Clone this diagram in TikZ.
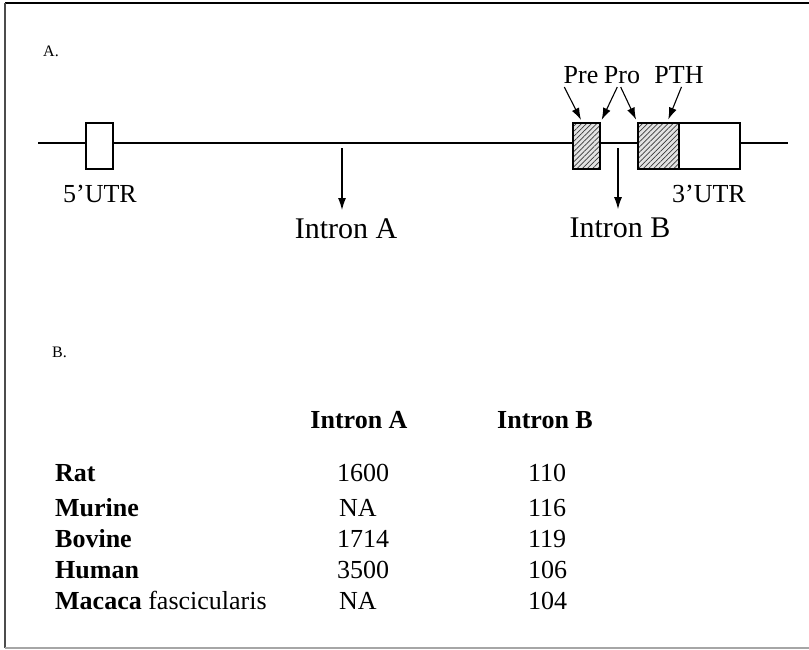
\documentclass[tikz,border=0pt]{standalone}
\usepackage{fontspec}
\setmainfont{Liberation Serif}
\usetikzlibrary{arrows.meta,patterns.meta,calc}

\begin{document}
\begin{tikzpicture}[x=1pt, y=-1pt,
    boxbase/.style={rectangle, draw, line width=1.3pt, inner sep=0pt, minimum height=46pt},
    exon/.style={boxbase, fill=white},
    hatched/.style={boxbase, preaction={fill=gray!22}, pattern={Lines[angle=45, distance=3.6pt, line width=0.7pt]}, pattern color=gray!45!black},
    backbone/.style={line width=2.8pt},
    pointer/.style={-{Latex[length=12pt,width=8pt]}, line width=1.1pt},
    panel/.style={inner sep=0pt, anchor=base west, font=\fontsize{16}{18}\selectfont},
    lbl/.style={inner sep=0pt, anchor=base, font=\fontsize{26}{30}\selectfont},
    big/.style={inner sep=0pt, anchor=base, font=\fontsize{30}{34}\selectfont},
    head/.style={inner sep=0pt, anchor=base, font=\bfseries\fontsize{26}{30}\selectfont},
    cell/.style={inner sep=0pt, anchor=base west, font=\fontsize{26}{30}\selectfont}
]
\useasboundingbox (0,0) rectangle (809,649);

% Frame
\draw[line width=2pt] (809,3) -- (5,3);
\draw[line width=1.4pt, gray!60!black] (5,3) -- (5,648);
\draw[line width=1.4pt, gray!70] (5,648) -- (809,648);

% Panel A: gene
\node[panel] (labA) at (43,56) {A.};

\coordinate (lend) at (38,143);
\coordinate (rend) at (788,143);
\draw[backbone] (lend) -- (rend);

\node[exon, minimum width=27pt] (utr5) at (99.5,146) {};
\node[hatched, minimum width=27pt] (pre) at (586.5,146) {};
\node[hatched, minimum width=41pt] (pth) at (658.5,146) {};
\node[exon, minimum width=61pt] (utr3) at (709.5,146) {};

\node[lbl] (lbl5) at (100,202) {5’UTR};
\node[lbl] (lbl3) at (709,202) {3’UTR};

% Pre Pro PTH
\node[lbl] (lblpre) at (581,83) {Pre};
\node[lbl] (lblpro) at (622,83) {Pro};
\node[lbl] (lblpth) at (679,83) {PTH};

\draw[pointer, shorten <=4pt, shorten >=3pt] ($(lblpre.south west)+(-1,0)$) -- (pre.100);
\draw[pointer, shorten <=4pt, shorten >=3pt] ($(lblpro.south)+(-3,0)$) -- (pre.north east);
\draw[pointer, shorten <=4pt, shorten >=3pt] ($(lblpro.south)+(-3,0)$) -- (pth.north west);
\draw[pointer, shorten <=4pt, shorten >=3pt] ($(lblpth.south)+(4,0)$) -- (pth.70);

% Introns
\coordinate (cutA) at (342,148);
\node[big] (intA) at (346,238) {Intron A};
\draw[pointer, shorten >=8pt] (cutA) -- (cutA |- intA.north);

\coordinate (cutB) at (618,148);
\node[big] (intB) at (620,237) {Intron B};
\draw[pointer, shorten >=8pt] (cutB) -- (cutB |- intB.north);

% Panel B: intron sizes
\node[panel] (labB) at (52,357) {B.};

\node[head] (hdA) at (359,428) {Intron A};
\node[head] (hdB) at (545,428) {Intron B};

\node[cell] (rat) at (55,481) {\textbf{Rat}};
\node[cell] (murine) at (55,516) {\textbf{Murine}};
\node[cell] (bovine) at (55,547) {\textbf{Bovine}};
\node[cell] (human) at (55,578) {\textbf{Human}};
\node[cell] (macaca) at (55,609) {\textbf{Macaca} fascicularis};

\node[cell] (ratA) at (337,481) {1600};
\node[cell] (murineA) at (339,516) {NA};
\node[cell] (bovineA) at (337,547) {1714};
\node[cell] (humanA) at (337,578) {3500};
\node[cell] (macacaA) at (339,609) {NA};

\node[cell] (ratB) at (528,481) {110};
\node[cell] (murineB) at (528,516) {116};
\node[cell] (bovineB) at (528,547) {119};
\node[cell] (humanB) at (528,578) {106};
\node[cell] (macacaB) at (528,609) {104};

\end{tikzpicture}
\end{document}
